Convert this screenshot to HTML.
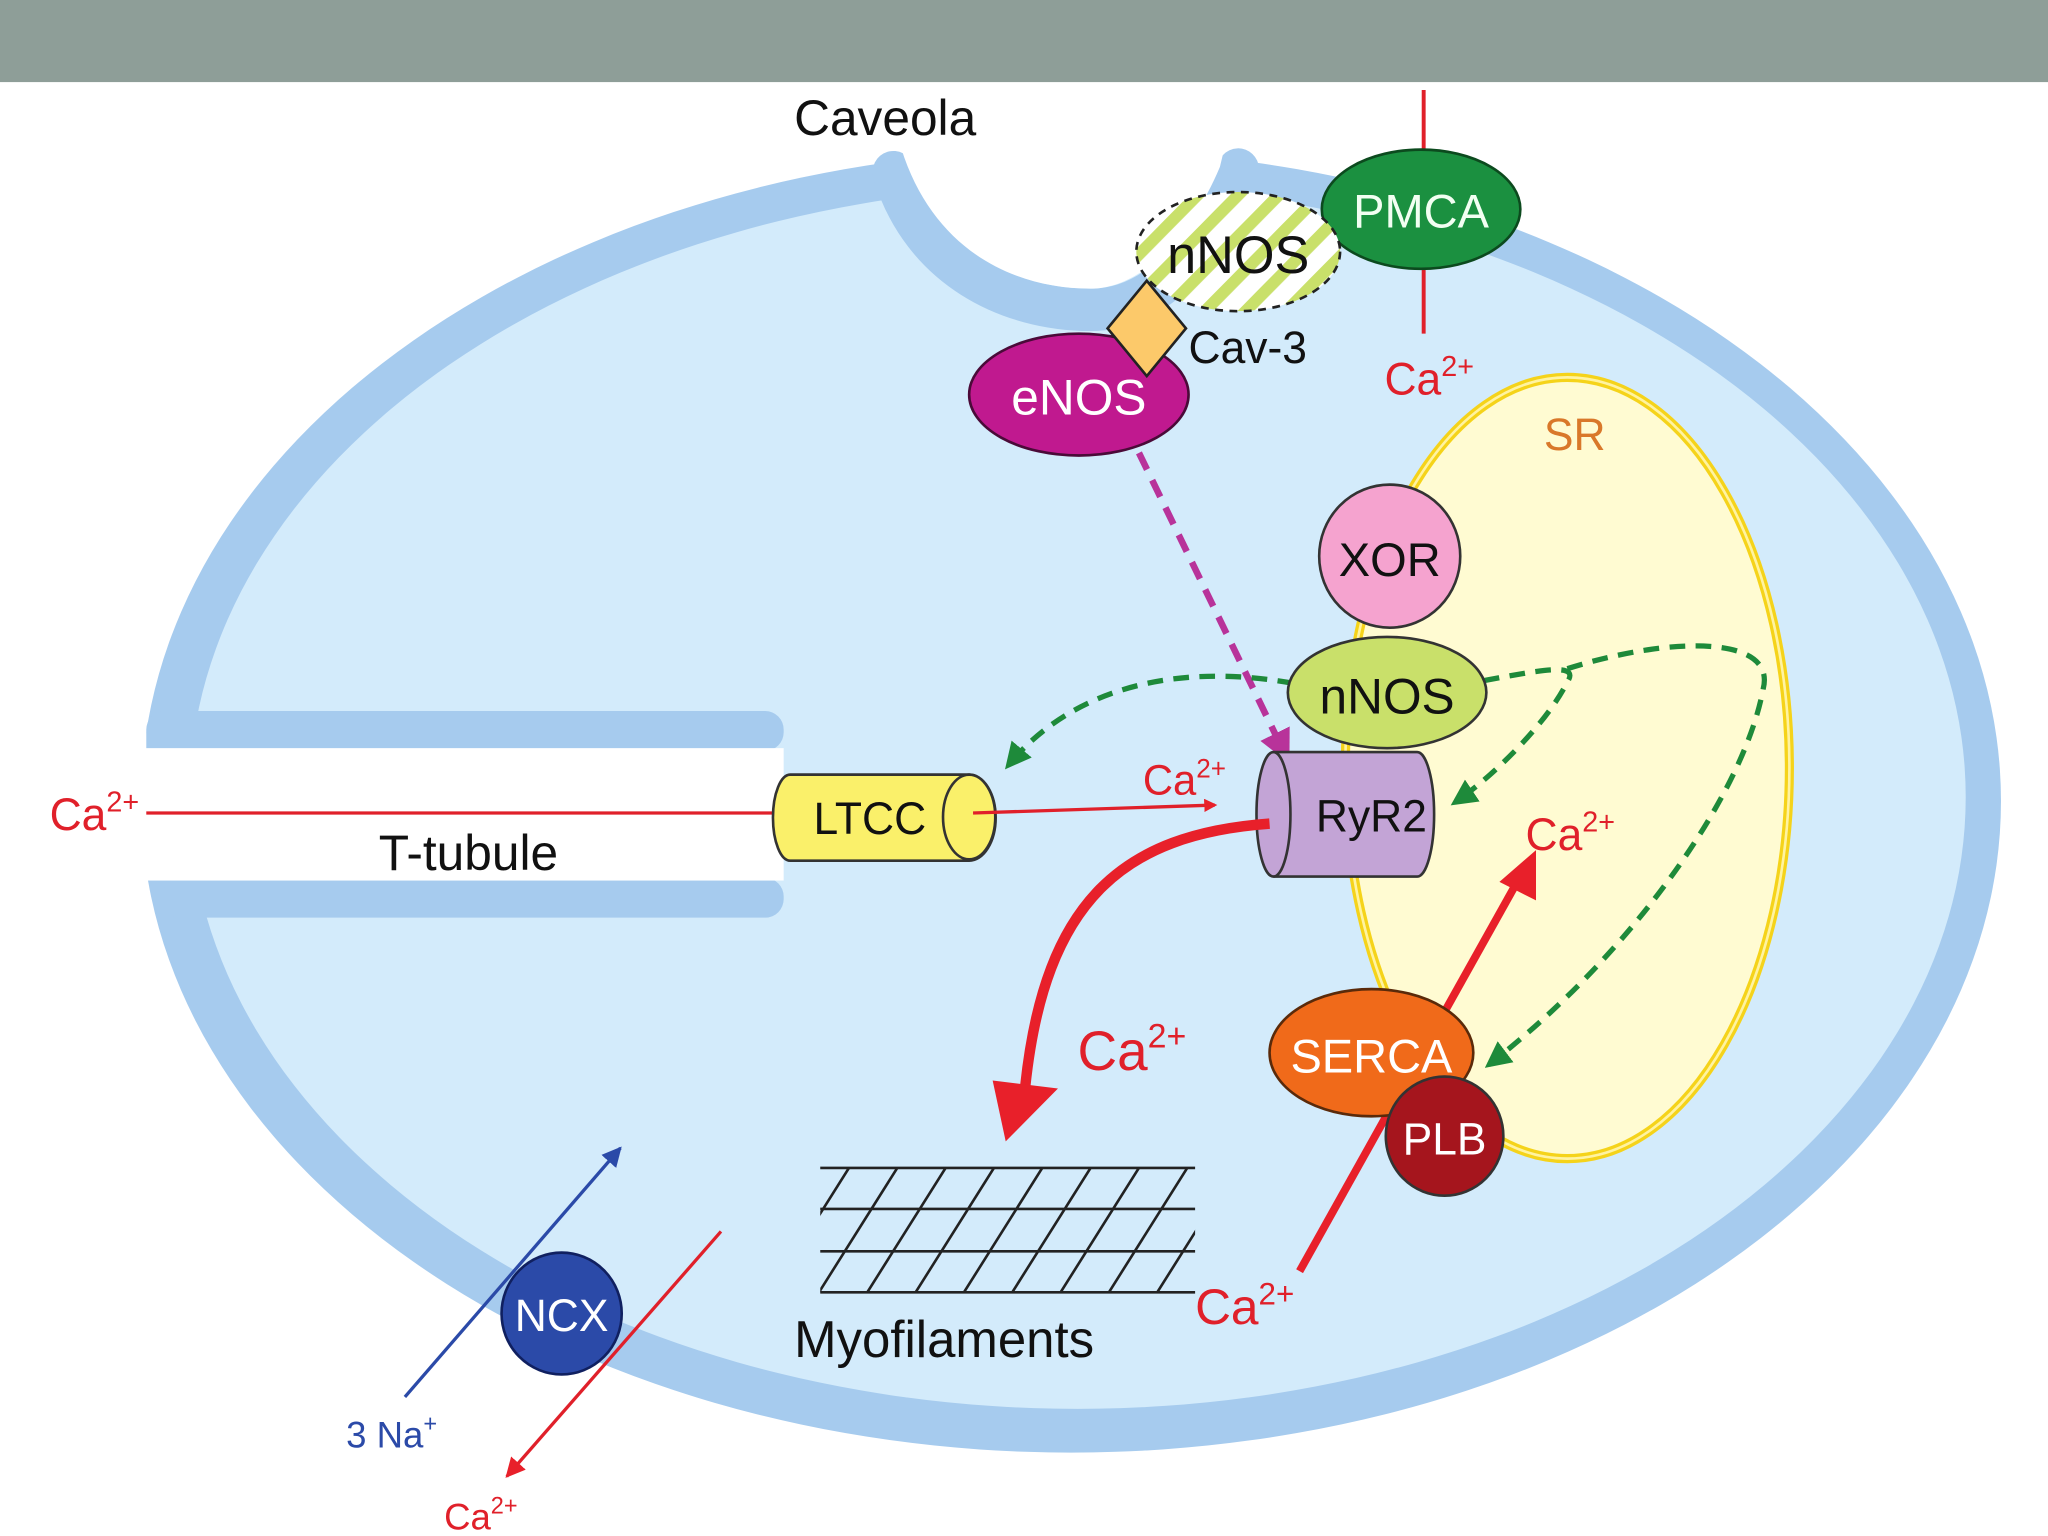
<!DOCTYPE html>
<html><head><meta charset="utf-8"><style>
html,body{margin:0;padding:0;background:#fff;width:2048px;height:1536px;overflow:hidden}
svg{display:block}
text{font-family:"Liberation Sans",sans-serif}
</style></head><body>
<svg width="2048" height="1536" viewBox="0 0 1568 1160" preserveAspectRatio="none" xmlns="http://www.w3.org/2000/svg">
<defs>
<marker id="ar" viewBox="0 0 10 10" refX="9" refY="5" markerWidth="6" markerHeight="6" orient="auto"><path d="M0,0L10,5L0,10z" fill="#e8202a"/></marker>
<marker id="ab" viewBox="0 0 10 10" refX="9" refY="5" markerWidth="6" markerHeight="6" orient="auto"><path d="M0,0L10,5L0,10z" fill="#2b4aa8"/></marker>
<marker id="ag" viewBox="0 0 10 10" refX="8" refY="5" markerWidth="5" markerHeight="5" orient="auto"><path d="M0,0L10,5L0,10z" fill="#1e8a3a"/></marker>
<marker id="am" viewBox="0 0 10 10" refX="8" refY="5" markerWidth="5" markerHeight="5" orient="auto"><path d="M0,0L10,5L0,10z" fill="#b8339a"/></marker>
<marker id="ar2" viewBox="0 0 10 10" refX="8" refY="5" markerWidth="4" markerHeight="4" orient="auto"><path d="M0,0L10,5L0,10z" fill="#e8202a"/></marker>
<pattern id="hatch" patternUnits="userSpaceOnUse" width="22" height="22" patternTransform="rotate(-45)">
<rect width="22" height="22" fill="#fff"/><rect width="22" height="9" fill="#c9e06a"/></pattern>
<clipPath id="mf"><rect x="628" y="882" width="287" height="94"/></clipPath>
</defs>
<rect width="1568" height="1160" fill="#fff"/>
<!-- cell -->
<ellipse cx="820" cy="605" rx="712" ry="492" fill="#a6cbee"/>
<ellipse cx="825" cy="602" rx="680" ry="462" fill="#d3ebfb"/>
<!-- caveola -->
<path d="M684,130 C706,202 772,234 835,234 C885,234 925,190 948,128" fill="none" stroke="#a6cbee" stroke-width="32" stroke-linecap="round"/>
<path d="M650,60 L690,112 C714,188 775,218 835,218 C872,218 910,182 934,126 L950,60 Z" fill="#fff"/>
<!-- t-tubule -->
<rect x="0" y="537" width="112" height="156" fill="#fff"/>
<rect x="112" y="537" width="488" height="30" rx="14" fill="#a6cbee"/>
<rect x="124" y="663" width="476" height="30" rx="14" fill="#a6cbee"/>
<rect x="0" y="565" width="600" height="100" fill="#fff"/>
<!-- SR -->
<ellipse cx="1200" cy="580" rx="170" ry="295" fill="#fffbd2" stroke="#f5d31a" stroke-width="7"/>
<ellipse cx="1200" cy="580" rx="170" ry="295" fill="none" stroke="#fff3a0" stroke-width="2"/>
<text x="1182" y="340" font-size="34" fill="#d9782a">SR</text>
<!-- header -->
<rect x="0" y="0" width="1568" height="62" fill="#8e9e98"/>
<text x="608" y="102" font-size="38" fill="#111">Caveola</text>
<!-- PMCA -->
<line x1="1090" y1="68" x2="1090" y2="252" stroke="#e0202a" stroke-width="3"/>
<ellipse cx="1088" cy="158" rx="76" ry="45" fill="#1b9040" stroke="#0c4a1e" stroke-width="2"/>
<text x="1088" y="172" font-size="36" fill="#f2fff2" text-anchor="middle">PMCA</text>
<text x="1060" y="298" font-size="34" fill="#e0202a">Ca<tspan font-size="22" dy="-14">2+</tspan></text>
<!-- nNOS top -->
<ellipse cx="948" cy="190" rx="78" ry="45" fill="url(#hatch)" stroke="#222" stroke-width="2" stroke-dasharray="6,5"/>
<text x="948" y="206" font-size="40" fill="#111" text-anchor="middle">nNOS</text>
<!-- eNOS -->
<ellipse cx="826" cy="298" rx="84" ry="46" fill="#c0198f" stroke="#4a0a38" stroke-width="2"/>
<text x="826" y="313" font-size="38" fill="#fff" text-anchor="middle">eNOS</text>
<polygon points="878,212 908,248 878,284 848,248" fill="#fcc96a" stroke="#222" stroke-width="2"/>
<text x="910" y="274" font-size="34" fill="#111">Cav-3</text>
<!-- magenta dashed -->
<line x1="872" y1="342" x2="985" y2="572" stroke="#b8339a" stroke-width="5" stroke-dasharray="14,9" marker-end="url(#am)"/>
<!-- XOR -->
<circle cx="1064" cy="420" r="54" fill="#f5a3cf" stroke="#333" stroke-width="2"/>
<text x="1064" y="435" font-size="36" fill="#111" text-anchor="middle">XOR</text>
<!-- green dashed arrows -->
<path d="M990,516 C900,500 820,520 772,578" fill="none" stroke="#1e8a3a" stroke-width="4" stroke-dasharray="12,8" marker-end="url(#ag)"/>
<path d="M1136,514 C1180,506 1210,500 1200,515 C1185,545 1145,585 1114,606" fill="none" stroke="#1e8a3a" stroke-width="4" stroke-dasharray="12,8" marker-end="url(#ag)"/>
<path d="M1200,505 C1280,480 1360,480 1350,520 C1335,600 1250,720 1140,804" fill="none" stroke="#1e8a3a" stroke-width="4" stroke-dasharray="12,8" marker-end="url(#ag)"/>
<!-- nNOS -->
<ellipse cx="1062" cy="523" rx="76" ry="42" fill="#c9e06a" stroke="#333" stroke-width="2"/>
<text x="1062" y="539" font-size="38" fill="#111" text-anchor="middle">nNOS</text>
<!-- RyR2 -->
<path d="M975,568 L1085,568 A13,47 0 0 1 1085,662 L975,662 A13,47 0 0 1 975,568z" fill="#c3a4d6" stroke="#333" stroke-width="2"/>
<path d="M975,568 A13,47 0 0 1 975,662" fill="none" stroke="#333" stroke-width="2"/>
<text x="1050" y="628" font-size="34" fill="#111" text-anchor="middle">RyR2</text>
<!-- T-tubule line -->
<text x="38" y="627" font-size="34" fill="#e0202a">Ca<tspan font-size="22" dy="-14">2+</tspan></text>
<line x1="112" y1="614" x2="600" y2="614" stroke="#e0202a" stroke-width="2.5"/>
<text x="290" y="657" font-size="38" fill="#111">T-tubule</text>
<!-- LTCC -->
<path d="M605,585 L742,585 A20,32 0 0 1 742,650 L605,650 A13,32 0 0 1 605,585z" fill="#faf06a" stroke="#333" stroke-width="2"/>
<ellipse cx="742" cy="617" rx="20" ry="32" fill="#faf06a" stroke="#333" stroke-width="2"/>
<text x="666" y="630" font-size="34" fill="#111" text-anchor="middle">LTCC</text>
<line x1="745" y1="614" x2="930" y2="608" stroke="#e0202a" stroke-width="2.5" marker-end="url(#ar2)"/>
<text x="875" y="600" font-size="32" fill="#e0202a">Ca<tspan font-size="20" dy="-13">2+</tspan></text>
<!-- big red curve -->
<path d="M972,622 C860,630 800,680 785,820" fill="none" stroke="#e8202a" stroke-width="8"/>
<polygon points="760,816 810,822 770,862" fill="#e8202a"/>
<text x="825" y="808" font-size="42" fill="#e0202a">Ca<tspan font-size="26" dy="-17">2+</tspan></text>
<!-- SERCA line -->
<line x1="995" y1="960" x2="1165" y2="660" stroke="#e8202a" stroke-width="6"/>
<polygon points="1176,642 1176,680 1148,666" fill="#e8202a"/>
<text x="1168" y="642" font-size="34" fill="#e0202a">Ca<tspan font-size="22" dy="-14">2+</tspan></text>
<ellipse cx="1050" cy="795" rx="78" ry="48" fill="#f06a1a" stroke="#5a2a0a" stroke-width="2"/>
<text x="1050" y="810" font-size="36" fill="#fff" text-anchor="middle">SERCA</text>
<circle cx="1106" cy="858" r="45" fill="#a5151d" stroke="#333" stroke-width="2"/>
<text x="1106" y="872" font-size="34" fill="#fff" text-anchor="middle">PLB</text>
<text x="915" y="1000" font-size="38" fill="#e0202a">Ca<tspan font-size="24" dy="-15">2+</tspan></text>
<!-- myofilaments -->
<g stroke="#222" stroke-width="2" fill="none">
<line x1="628" y1="882" x2="915" y2="882"/><line x1="628" y1="913" x2="915" y2="913"/>
<line x1="628" y1="945" x2="915" y2="945"/><line x1="628" y1="976" x2="915" y2="976"/>
<g clip-path="url(#mf)">
<path d="M590,976 L650,882 M627,976 L687,882 M664,976 L724,882 M701,976 L761,882 M738,976 L798,882 M775,976 L835,882 M812,976 L872,882 M849,976 L909,882 M886,976 L946,882 M923,976 L983,882"/>
</g>
</g>
<text x="608" y="1025" font-size="39" fill="#111">Myofilaments</text>
<!-- NCX -->
<line x1="310" y1="1055" x2="475" y2="867" stroke="#2b4aa8" stroke-width="2.5" marker-end="url(#ab)"/>
<line x1="552" y1="930" x2="388" y2="1115" stroke="#e0202a" stroke-width="2.5" marker-end="url(#ar)"/>
<circle cx="430" cy="992" r="46" fill="#2b4aa8" stroke="#102060" stroke-width="2"/>
<text x="430" y="1005" font-size="34" fill="#fff" text-anchor="middle">NCX</text>
<text x="265" y="1093" font-size="28" fill="#2b4aa8">3 Na<tspan font-size="18" dy="-12">+</tspan></text>
<text x="340" y="1155" font-size="28" fill="#e0202a">Ca<tspan font-size="18" dy="-12">2+</tspan></text>
</svg>
</body></html>
